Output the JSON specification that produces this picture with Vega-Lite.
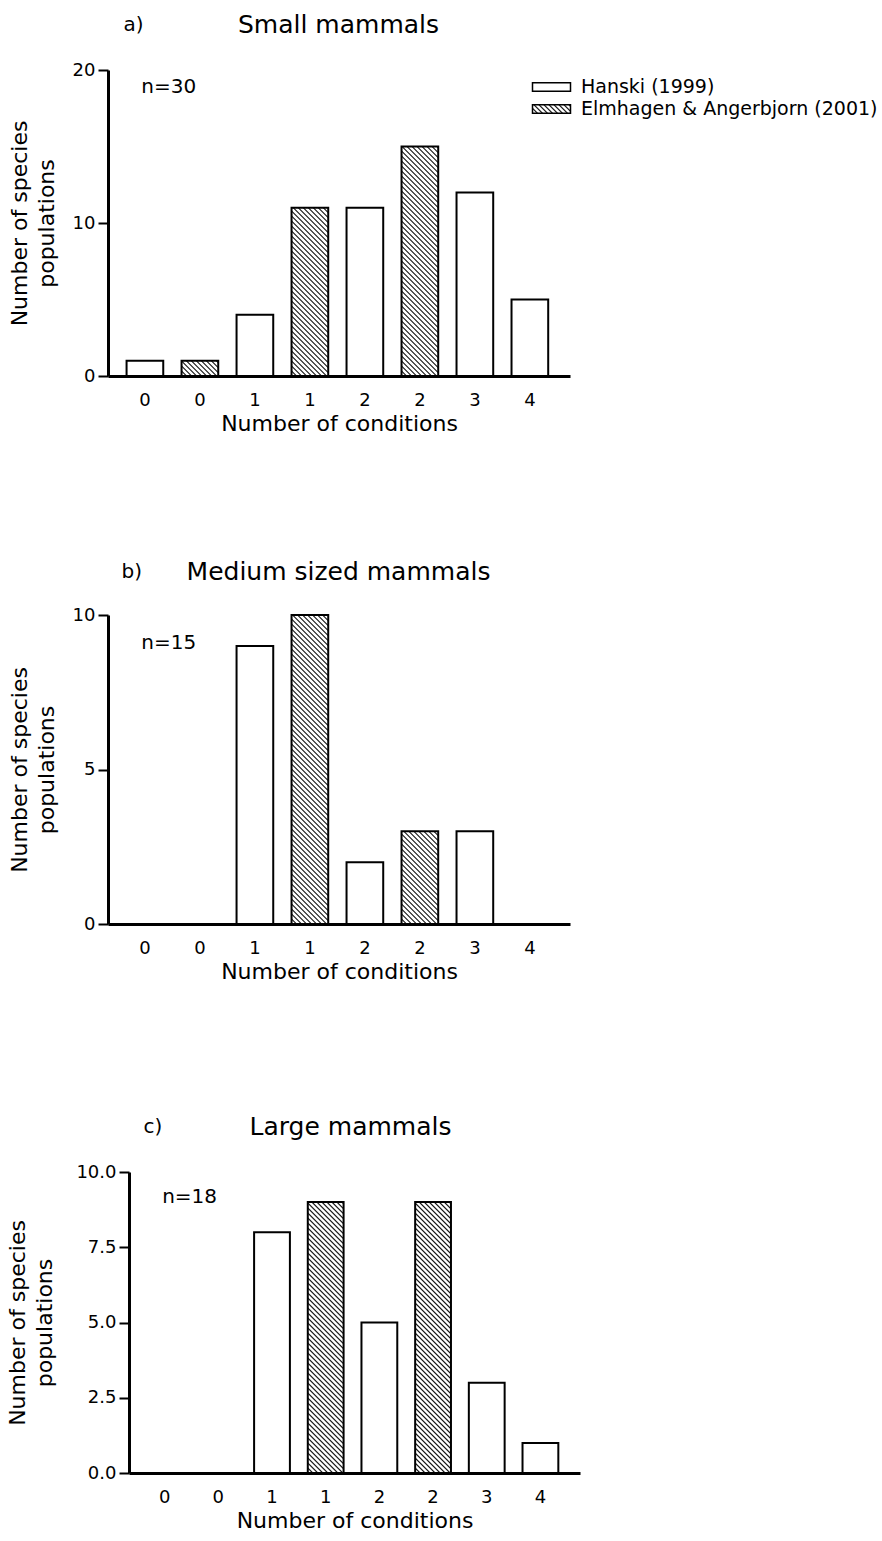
{
  "$schema": "https://vega.github.io/schema/vega-lite/v6.json",
  "background": "white",
  "padding": {"left": 6, "top": 12, "right": 0, "bottom": 5},
  "params": [
    {"name": "hs", "value": [
{"offset":0,"color":"#000"},{"offset":0.003,"color":"#fff"},{"offset":0.007,"color":"#fff"},
{"offset":0.01,"color":"#000"},{"offset":0.013,"color":"#fff"},{"offset":0.017,"color":"#fff"},
{"offset":0.02,"color":"#000"},{"offset":0.023,"color":"#fff"},{"offset":0.027,"color":"#fff"},
{"offset":0.03,"color":"#000"},{"offset":0.033,"color":"#fff"},{"offset":0.037,"color":"#fff"},
{"offset":0.04,"color":"#000"},{"offset":0.043,"color":"#fff"},{"offset":0.047,"color":"#fff"},
{"offset":0.05,"color":"#000"},{"offset":0.053,"color":"#fff"},{"offset":0.057,"color":"#fff"},
{"offset":0.06,"color":"#000"},{"offset":0.063,"color":"#fff"},{"offset":0.067,"color":"#fff"},
{"offset":0.07,"color":"#000"},{"offset":0.073,"color":"#fff"},{"offset":0.077,"color":"#fff"},
{"offset":0.08,"color":"#000"},{"offset":0.083,"color":"#fff"},{"offset":0.087,"color":"#fff"},
{"offset":0.09,"color":"#000"},{"offset":0.093,"color":"#fff"},{"offset":0.097,"color":"#fff"},
{"offset":0.1,"color":"#000"},{"offset":0.103,"color":"#fff"},{"offset":0.107,"color":"#fff"},
{"offset":0.11,"color":"#000"},{"offset":0.113,"color":"#fff"},{"offset":0.117,"color":"#fff"},
{"offset":0.12,"color":"#000"},{"offset":0.123,"color":"#fff"},{"offset":0.127,"color":"#fff"},
{"offset":0.13,"color":"#000"},{"offset":0.133,"color":"#fff"},{"offset":0.137,"color":"#fff"},
{"offset":0.14,"color":"#000"},{"offset":0.143,"color":"#fff"},{"offset":0.147,"color":"#fff"},
{"offset":0.15,"color":"#000"},{"offset":0.153,"color":"#fff"},{"offset":0.157,"color":"#fff"},
{"offset":0.16,"color":"#000"},{"offset":0.163,"color":"#fff"},{"offset":0.167,"color":"#fff"},
{"offset":0.17,"color":"#000"},{"offset":0.173,"color":"#fff"},{"offset":0.177,"color":"#fff"},
{"offset":0.18,"color":"#000"},{"offset":0.183,"color":"#fff"},{"offset":0.187,"color":"#fff"},
{"offset":0.19,"color":"#000"},{"offset":0.193,"color":"#fff"},{"offset":0.197,"color":"#fff"},
{"offset":0.2,"color":"#000"},{"offset":0.203,"color":"#fff"},{"offset":0.207,"color":"#fff"},
{"offset":0.21,"color":"#000"},{"offset":0.213,"color":"#fff"},{"offset":0.217,"color":"#fff"},
{"offset":0.22,"color":"#000"},{"offset":0.223,"color":"#fff"},{"offset":0.227,"color":"#fff"},
{"offset":0.23,"color":"#000"},{"offset":0.233,"color":"#fff"},{"offset":0.237,"color":"#fff"},
{"offset":0.24,"color":"#000"},{"offset":0.243,"color":"#fff"},{"offset":0.247,"color":"#fff"},
{"offset":0.25,"color":"#000"},{"offset":0.253,"color":"#fff"},{"offset":0.257,"color":"#fff"},
{"offset":0.26,"color":"#000"},{"offset":0.263,"color":"#fff"},{"offset":0.267,"color":"#fff"},
{"offset":0.27,"color":"#000"},{"offset":0.273,"color":"#fff"},{"offset":0.277,"color":"#fff"},
{"offset":0.28,"color":"#000"},{"offset":0.283,"color":"#fff"},{"offset":0.287,"color":"#fff"},
{"offset":0.29,"color":"#000"},{"offset":0.293,"color":"#fff"},{"offset":0.297,"color":"#fff"},
{"offset":0.3,"color":"#000"},{"offset":0.303,"color":"#fff"},{"offset":0.307,"color":"#fff"},
{"offset":0.31,"color":"#000"},{"offset":0.313,"color":"#fff"},{"offset":0.317,"color":"#fff"},
{"offset":0.32,"color":"#000"},{"offset":0.323,"color":"#fff"},{"offset":0.327,"color":"#fff"},
{"offset":0.33,"color":"#000"},{"offset":0.333,"color":"#fff"},{"offset":0.337,"color":"#fff"},
{"offset":0.34,"color":"#000"},{"offset":0.343,"color":"#fff"},{"offset":0.347,"color":"#fff"},
{"offset":0.35,"color":"#000"},{"offset":0.353,"color":"#fff"},{"offset":0.357,"color":"#fff"},
{"offset":0.36,"color":"#000"},{"offset":0.363,"color":"#fff"},{"offset":0.367,"color":"#fff"},
{"offset":0.37,"color":"#000"},{"offset":0.373,"color":"#fff"},{"offset":0.377,"color":"#fff"},
{"offset":0.38,"color":"#000"},{"offset":0.383,"color":"#fff"},{"offset":0.387,"color":"#fff"},
{"offset":0.39,"color":"#000"},{"offset":0.393,"color":"#fff"},{"offset":0.397,"color":"#fff"},
{"offset":0.4,"color":"#000"},{"offset":0.403,"color":"#fff"},{"offset":0.407,"color":"#fff"},
{"offset":0.41,"color":"#000"},{"offset":0.413,"color":"#fff"},{"offset":0.417,"color":"#fff"},
{"offset":0.42,"color":"#000"},{"offset":0.423,"color":"#fff"},{"offset":0.427,"color":"#fff"},
{"offset":0.43,"color":"#000"},{"offset":0.433,"color":"#fff"},{"offset":0.437,"color":"#fff"},
{"offset":0.44,"color":"#000"},{"offset":0.443,"color":"#fff"},{"offset":0.447,"color":"#fff"},
{"offset":0.45,"color":"#000"},{"offset":0.453,"color":"#fff"},{"offset":0.457,"color":"#fff"},
{"offset":0.46,"color":"#000"},{"offset":0.463,"color":"#fff"},{"offset":0.467,"color":"#fff"},
{"offset":0.47,"color":"#000"},{"offset":0.473,"color":"#fff"},{"offset":0.477,"color":"#fff"},
{"offset":0.48,"color":"#000"},{"offset":0.483,"color":"#fff"},{"offset":0.487,"color":"#fff"},
{"offset":0.49,"color":"#000"},{"offset":0.493,"color":"#fff"},{"offset":0.497,"color":"#fff"},
{"offset":0.5,"color":"#000"},{"offset":0.503,"color":"#fff"},{"offset":0.507,"color":"#fff"},
{"offset":0.51,"color":"#000"},{"offset":0.513,"color":"#fff"},{"offset":0.517,"color":"#fff"},
{"offset":0.52,"color":"#000"},{"offset":0.523,"color":"#fff"},{"offset":0.527,"color":"#fff"},
{"offset":0.53,"color":"#000"},{"offset":0.533,"color":"#fff"},{"offset":0.537,"color":"#fff"},
{"offset":0.54,"color":"#000"},{"offset":0.543,"color":"#fff"},{"offset":0.547,"color":"#fff"},
{"offset":0.55,"color":"#000"},{"offset":0.553,"color":"#fff"},{"offset":0.557,"color":"#fff"},
{"offset":0.56,"color":"#000"},{"offset":0.563,"color":"#fff"},{"offset":0.567,"color":"#fff"},
{"offset":0.57,"color":"#000"},{"offset":0.573,"color":"#fff"},{"offset":0.577,"color":"#fff"},
{"offset":0.58,"color":"#000"},{"offset":0.583,"color":"#fff"},{"offset":0.587,"color":"#fff"},
{"offset":0.59,"color":"#000"},{"offset":0.593,"color":"#fff"},{"offset":0.597,"color":"#fff"},
{"offset":0.6,"color":"#000"},{"offset":0.603,"color":"#fff"},{"offset":0.607,"color":"#fff"},
{"offset":0.61,"color":"#000"},{"offset":0.613,"color":"#fff"},{"offset":0.617,"color":"#fff"},
{"offset":0.62,"color":"#000"},{"offset":0.623,"color":"#fff"},{"offset":0.627,"color":"#fff"},
{"offset":0.63,"color":"#000"},{"offset":0.633,"color":"#fff"},{"offset":0.637,"color":"#fff"},
{"offset":0.64,"color":"#000"},{"offset":0.643,"color":"#fff"},{"offset":0.647,"color":"#fff"},
{"offset":0.65,"color":"#000"},{"offset":0.653,"color":"#fff"},{"offset":0.657,"color":"#fff"},
{"offset":0.66,"color":"#000"},{"offset":0.663,"color":"#fff"},{"offset":0.667,"color":"#fff"},
{"offset":0.67,"color":"#000"},{"offset":0.673,"color":"#fff"},{"offset":0.677,"color":"#fff"},
{"offset":0.68,"color":"#000"},{"offset":0.683,"color":"#fff"},{"offset":0.687,"color":"#fff"},
{"offset":0.69,"color":"#000"},{"offset":0.693,"color":"#fff"},{"offset":0.697,"color":"#fff"},
{"offset":0.7,"color":"#000"},{"offset":0.703,"color":"#fff"},{"offset":0.707,"color":"#fff"},
{"offset":0.71,"color":"#000"},{"offset":0.713,"color":"#fff"},{"offset":0.717,"color":"#fff"},
{"offset":0.72,"color":"#000"},{"offset":0.723,"color":"#fff"},{"offset":0.727,"color":"#fff"},
{"offset":0.73,"color":"#000"},{"offset":0.733,"color":"#fff"},{"offset":0.737,"color":"#fff"},
{"offset":0.74,"color":"#000"},{"offset":0.743,"color":"#fff"},{"offset":0.747,"color":"#fff"},
{"offset":0.75,"color":"#000"},{"offset":0.753,"color":"#fff"},{"offset":0.757,"color":"#fff"},
{"offset":0.76,"color":"#000"},{"offset":0.763,"color":"#fff"},{"offset":0.767,"color":"#fff"},
{"offset":0.77,"color":"#000"},{"offset":0.773,"color":"#fff"},{"offset":0.777,"color":"#fff"},
{"offset":0.78,"color":"#000"},{"offset":0.783,"color":"#fff"},{"offset":0.787,"color":"#fff"},
{"offset":0.79,"color":"#000"},{"offset":0.793,"color":"#fff"},{"offset":0.797,"color":"#fff"},
{"offset":0.8,"color":"#000"},{"offset":0.803,"color":"#fff"},{"offset":0.807,"color":"#fff"},
{"offset":0.81,"color":"#000"},{"offset":0.813,"color":"#fff"},{"offset":0.817,"color":"#fff"},
{"offset":0.82,"color":"#000"},{"offset":0.823,"color":"#fff"},{"offset":0.827,"color":"#fff"},
{"offset":0.83,"color":"#000"},{"offset":0.833,"color":"#fff"},{"offset":0.837,"color":"#fff"},
{"offset":0.84,"color":"#000"},{"offset":0.843,"color":"#fff"},{"offset":0.847,"color":"#fff"},
{"offset":0.85,"color":"#000"},{"offset":0.853,"color":"#fff"},{"offset":0.857,"color":"#fff"},
{"offset":0.86,"color":"#000"},{"offset":0.863,"color":"#fff"},{"offset":0.867,"color":"#fff"},
{"offset":0.87,"color":"#000"},{"offset":0.873,"color":"#fff"},{"offset":0.877,"color":"#fff"},
{"offset":0.88,"color":"#000"},{"offset":0.883,"color":"#fff"},{"offset":0.887,"color":"#fff"},
{"offset":0.89,"color":"#000"},{"offset":0.893,"color":"#fff"},{"offset":0.897,"color":"#fff"},
{"offset":0.9,"color":"#000"},{"offset":0.903,"color":"#fff"},{"offset":0.907,"color":"#fff"},
{"offset":0.91,"color":"#000"},{"offset":0.913,"color":"#fff"},{"offset":0.917,"color":"#fff"},
{"offset":0.92,"color":"#000"},{"offset":0.923,"color":"#fff"},{"offset":0.927,"color":"#fff"},
{"offset":0.93,"color":"#000"},{"offset":0.933,"color":"#fff"},{"offset":0.937,"color":"#fff"},
{"offset":0.94,"color":"#000"},{"offset":0.943,"color":"#fff"},{"offset":0.947,"color":"#fff"},
{"offset":0.95,"color":"#000"},{"offset":0.953,"color":"#fff"},{"offset":0.957,"color":"#fff"},
{"offset":0.96,"color":"#000"},{"offset":0.963,"color":"#fff"},{"offset":0.967,"color":"#fff"},
{"offset":0.97,"color":"#000"},{"offset":0.973,"color":"#fff"},{"offset":0.977,"color":"#fff"},
{"offset":0.98,"color":"#000"},{"offset":0.983,"color":"#fff"},{"offset":0.987,"color":"#fff"},
{"offset":0.99,"color":"#000"},{"offset":0.993,"color":"#fff"},{"offset":0.997,"color":"#fff"},
{"offset":1,"color":"#000"}
    ]}
  ],
  "datasets": {
    "bars": [
      {"p": "a", "c": "0a", "s": "Hanski (1999)", "v": 1},
      {"p": "a", "c": "0b", "s": "Elmhagen & Angerbjorn (2001)", "v": 1},
      {"p": "a", "c": "1a", "s": "Hanski (1999)", "v": 4},
      {"p": "a", "c": "1b", "s": "Elmhagen & Angerbjorn (2001)", "v": 11},
      {"p": "a", "c": "2a", "s": "Hanski (1999)", "v": 11},
      {"p": "a", "c": "2b", "s": "Elmhagen & Angerbjorn (2001)", "v": 15},
      {"p": "a", "c": "3", "s": "Hanski (1999)", "v": 12},
      {"p": "a", "c": "4", "s": "Hanski (1999)", "v": 5},
      {"p": "b", "c": "0a", "s": "Hanski (1999)", "v": 0},
      {"p": "b", "c": "0b", "s": "Elmhagen & Angerbjorn (2001)", "v": 0},
      {"p": "b", "c": "1a", "s": "Hanski (1999)", "v": 9},
      {"p": "b", "c": "1b", "s": "Elmhagen & Angerbjorn (2001)", "v": 10},
      {"p": "b", "c": "2a", "s": "Hanski (1999)", "v": 2},
      {"p": "b", "c": "2b", "s": "Elmhagen & Angerbjorn (2001)", "v": 3},
      {"p": "b", "c": "3", "s": "Hanski (1999)", "v": 3},
      {"p": "b", "c": "4", "s": "Hanski (1999)", "v": 0},
      {"p": "c", "c": "0a", "s": "Hanski (1999)", "v": 0},
      {"p": "c", "c": "0b", "s": "Elmhagen & Angerbjorn (2001)", "v": 0},
      {"p": "c", "c": "1a", "s": "Hanski (1999)", "v": 8},
      {"p": "c", "c": "1b", "s": "Elmhagen & Angerbjorn (2001)", "v": 9},
      {"p": "c", "c": "2a", "s": "Hanski (1999)", "v": 5},
      {"p": "c", "c": "2b", "s": "Elmhagen & Angerbjorn (2001)", "v": 9},
      {"p": "c", "c": "3", "s": "Hanski (1999)", "v": 3},
      {"p": "c", "c": "4", "s": "Hanski (1999)", "v": 1}
    ],
    "notes": [
      {"p": "a", "t": "n=30", "c": "0a", "y": 18.9},
      {"p": "b", "t": "n=15", "c": "0a", "y": 9.1},
      {"p": "c", "t": "n=18", "c": "0a", "y": 9.18}
    ]
  },
  "spacing": 132,
  "vconcat": [
    {
      "spacing": 125,
      "vconcat": [
        {
          "width": 462,
          "height": 306,
          "resolve": {"axis": {"x": "independent", "y": "independent"}},
          "layer": [
            {
              "data": {"name": "bars"},
              "transform": [{"filter": "datum.p === 'a'"}],
              "mark": {"type": "bar", "stroke": "black", "strokeWidth": 2},
              "encoding": {
                "x": {"field": "c", "type": "nominal",
                  "scale": {"domain": ["0a","0b","1a","1b","2a","2b","3","4"], "paddingInner": 0.333, "paddingOuter": 0.367, "align": 0.46},
                  "axis": {"labelExpr": "substring(datum.value, 0, 1)", "title": "Number of conditions", "ticks": false, "labelAngle": 0, "labelPadding": 15, "titlePadding": 4}},
                "y": {"field": "v", "type": "quantitative",
                  "scale": {"domain": [0, 20], "nice": false},
                  "axis": {"values": [0, 10, 20], "title": ["Number of species", "populations"], "titlePadding": 14}},
                "fill": {
                  "field": "s", "type": "nominal",
                  "scale": {"domain": ["Hanski (1999)", "Elmhagen & Angerbjorn (2001)"], "range": ["white", {"expr": "{gradient:'linear',x1:0,y1:1,x2:12.524,y2:-1.818,stops:hs}"}]},
                  "condition": {"test": "datum.s !== 'Hanski (1999)'", "value": {"expr": "{gradient:'linear',x1:0,y1:1,x2:18335/(1344.7+pow(datum.v*15.3,2)),y2:1-7650*datum.v/(1344.7+pow(datum.v*15.3,2)),stops:hs}"}},
                  "legend": {
                    "orient": "none", "legendX": 434, "legendY": 7.5, "title": null, "padding": 0,
                    "symbolType": "M-4,-0.9H4V0.9H-4Z", "symbolSize": 90.25,
                    "symbolStrokeColor": "black", "symbolStrokeWidth": 1.5,
                    "labelFont": "DejaVu Sans", "labelFontSize": 19, "labelColor": "black", "labelLimit": 600, "labelOffset": 20,
                    "rowPadding": 2
                  }
                }
              }
            },
            {
              "data": {"name": "notes"},
              "transform": [{"filter": "datum.p === 'a'"}],
              "mark": {"type": "text", "align": "left", "baseline": "middle", "fontSize": 20, "font": "DejaVu Sans", "color": "black"},
              "encoding": {
                "x": {"field": "c", "type": "nominal", "bandPosition": 0.4,
                  "axis": {"orient": "top", "title": "Small mammals", "labels": false, "ticks": false, "domain": false, "titleX": 230, "titleY": -46, "titleAlign": "center", "titleBaseline": "middle", "titleAngle": 0, "titleFontSize": 25, "titlePadding": 0}},
                "y": {"field": "y", "type": "quantitative",
                  "axis": {"orient": "right", "title": "a)", "labels": false, "ticks": false, "domain": false, "titleX": -447, "titleY": -46, "titleAlign": "left", "titleBaseline": "middle", "titleAngle": 0, "titleFontSize": 20, "titlePadding": 0}},
                "text": {"field": "t"}
              }
            }
          ]
        },
        {
          "width": 462,
          "height": 309,
          "resolve": {"axis": {"x": "independent", "y": "independent"}},
          "layer": [
            {
              "data": {"name": "bars"},
              "transform": [{"filter": "datum.p === 'b'"}],
              "mark": {"type": "bar", "stroke": "black", "strokeWidth": 2},
              "encoding": {
                "x": {"field": "c", "type": "nominal",
                  "scale": {"domain": ["0a","0b","1a","1b","2a","2b","3","4"], "paddingInner": 0.333, "paddingOuter": 0.367, "align": 0.46},
                  "axis": {"labelExpr": "substring(datum.value, 0, 1)", "title": "Number of conditions", "ticks": false, "labelAngle": 0, "labelPadding": 15, "titlePadding": 4}},
                "y": {"field": "v", "type": "quantitative",
                  "scale": {"domain": [0, 10], "nice": false},
                  "axis": {"values": [0, 5, 10], "title": ["Number of species", "populations"], "titlePadding": 14}},
                "fill": {
                  "condition": {"test": "datum.s !== 'Hanski (1999)'", "value": {"expr": "{gradient:'linear',x1:0,y1:1,x2:18335/(1344.7+pow(datum.v*30.9,2)),y2:1-15450*datum.v/(1344.7+pow(datum.v*30.9,2)),stops:hs}"}},
                  "value": "white"
                }
              }
            },
            {
              "data": {"name": "notes"},
              "transform": [{"filter": "datum.p === 'b'"}],
              "mark": {"type": "text", "align": "left", "baseline": "middle", "fontSize": 20, "font": "DejaVu Sans", "color": "black"},
              "encoding": {
                "x": {"field": "c", "type": "nominal", "bandPosition": 0.4,
                  "axis": {"orient": "top", "title": "Medium sized mammals", "labels": false, "ticks": false, "domain": false, "titleX": 230, "titleY": -44, "titleAlign": "center", "titleBaseline": "middle", "titleAngle": 0, "titleFontSize": 25, "titlePadding": 0}},
                "y": {"field": "y", "type": "quantitative",
                  "axis": {"orient": "right", "title": "b)", "labels": false, "ticks": false, "domain": false, "titleX": -449, "titleY": -44, "titleAlign": "left", "titleBaseline": "middle", "titleAngle": 0, "titleFontSize": 20, "titlePadding": 0}},
                "text": {"field": "t"}
              }
            }
          ]
        }
      ]
    },
    {
      "width": 472,
      "height": 301,
      "resolve": {"axis": {"x": "independent", "y": "independent"}},
      "layer": [
        {
          "data": {"name": "bars"},
          "transform": [{"filter": "datum.p === 'c'"}],
          "mark": {"type": "bar", "stroke": "black", "strokeWidth": 2},
          "encoding": {
            "x": {"field": "c", "type": "nominal",
              "scale": {"domain": ["0a","0b","1a","1b","2a","2b","3","4"], "range": [21, 472], "paddingInner": 0.333, "paddingOuter": 0.367, "align": 0.45},
              "axis": {"labelExpr": "substring(datum.value, 0, 1)", "title": "Number of conditions", "ticks": false, "labelAngle": 0, "labelPadding": 15, "titlePadding": 4}},
            "y": {"field": "v", "type": "quantitative",
              "scale": {"domain": [0, 10], "nice": false},
              "axis": {"values": [0, 2.5, 5, 7.5, 10], "format": ".1f", "offset": -21, "title": ["Number of species", "populations"], "titlePadding": 19}},
            "fill": {
              "condition": {"test": "datum.s !== 'Hanski (1999)'", "value": {"expr": "{gradient:'linear',x1:0,y1:1,x2:17900/(1281.6+pow(datum.v*30.1,2)),y2:1-15050*datum.v/(1281.6+pow(datum.v*30.1,2)),stops:hs}"}},
              "value": "white"
            }
          }
        },
        {
          "data": {"name": "notes"},
          "transform": [{"filter": "datum.p === 'c'"}],
          "mark": {"type": "text", "align": "left", "baseline": "middle", "fontSize": 20, "font": "DejaVu Sans", "color": "black"},
          "encoding": {
            "x": {"field": "c", "type": "nominal", "bandPosition": 0.43,
              "axis": {"orient": "top", "title": "Large mammals", "labels": false, "ticks": false, "domain": false, "titleX": 242, "titleY": -46, "titleAlign": "center", "titleBaseline": "middle", "titleAngle": 0, "titleFontSize": 25, "titlePadding": 0}},
            "y": {"field": "y", "type": "quantitative",
              "axis": {"orient": "right", "title": "c)", "labels": false, "ticks": false, "domain": false, "titleX": -437, "titleY": -46, "titleAlign": "left", "titleBaseline": "middle", "titleAngle": 0, "titleFontSize": 20, "titlePadding": 0}},
            "text": {"field": "t"}
          }
        }
      ]
    }
  ],
  "config": {
    "font": "DejaVu Sans",
    "view": {"stroke": null},
    "axis": {
      "domainColor": "black", "domainWidth": 3, "tickColor": "black", "tickWidth": 2, "tickSize": 10,
      "labelFont": "DejaVu Sans", "labelFontSize": 18, "labelColor": "black", "labelPadding": 3,
      "titleFont": "DejaVu Sans", "titleFontSize": 22, "titleFontWeight": "normal", "titleColor": "black", "titleLineHeight": 27,
      "grid": false
    }
  }
}
